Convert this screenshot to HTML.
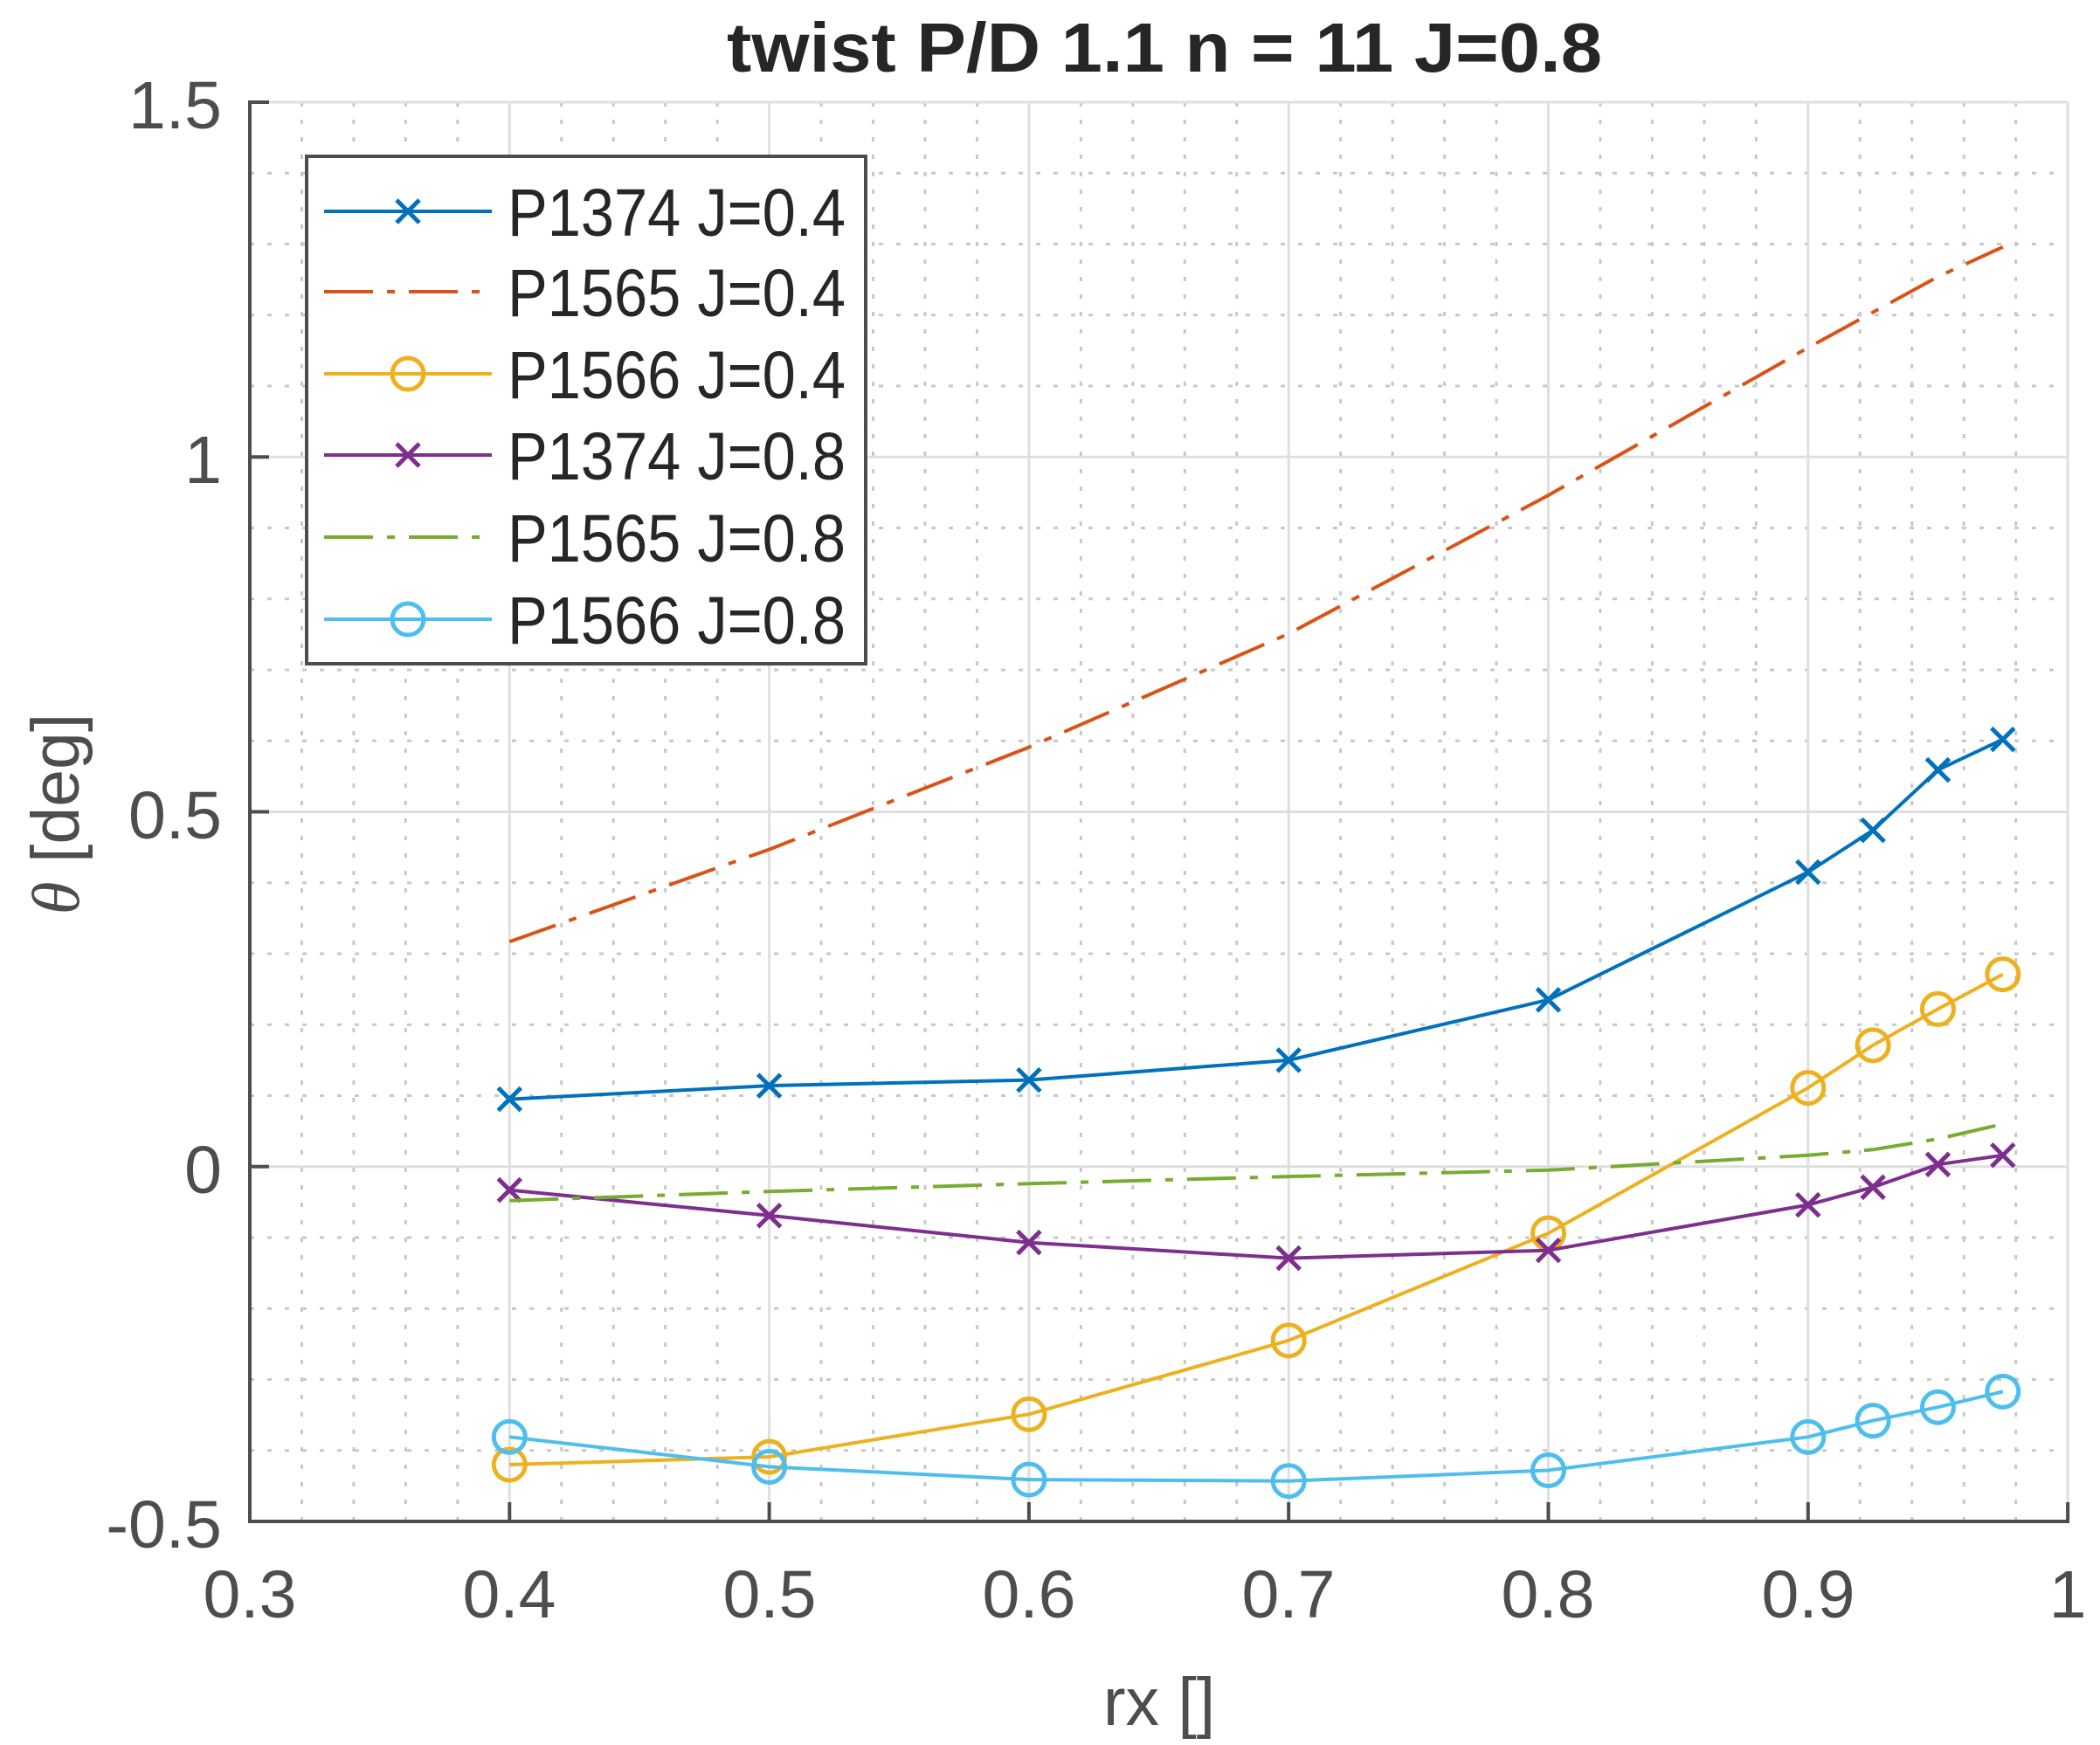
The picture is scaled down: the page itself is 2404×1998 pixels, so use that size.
<!DOCTYPE html>
<html><head><meta charset="utf-8"><style>
html,body{margin:0;padding:0;background:#fff;}
svg{display:block;}
text{font-family:"Liberation Sans",Arial,sans-serif;}
</style></head><body>
<svg id="s" width="2404" height="1998" viewBox="0 0 2404 1998" xmlns="http://www.w3.org/2000/svg">
<rect width="2404" height="1998" fill="#fff"/>
<g id="grid"></g>
<g id="data"></g>
<g id="axes"></g>
<g font-size="77" fill="#4d4d4f" text-anchor="middle">
<text x="286" y="1852">0.3</text>
<text x="583" y="1852">0.4</text>
<text x="881" y="1852">0.5</text>
<text x="1178" y="1852">0.6</text>
<text x="1475" y="1852">0.7</text>
<text x="1772" y="1852">0.8</text>
<text x="2070" y="1852">0.9</text>
<text x="2367" y="1852">1</text>
</g>
<g font-size="77" fill="#4d4d4f" text-anchor="end">
<text x="254" y="147">1.5</text>
<text x="254" y="553">1</text>
<text x="254" y="960">0.5</text>
<text x="254" y="1366">0</text>
<text x="254" y="1772">-0.5</text>
</g>
<text x="1327" y="1975" font-size="77" fill="#4d4d4f" text-anchor="middle">rx []</text>
<text transform="translate(90,932) rotate(-90)" font-size="77" fill="#4d4d4f" text-anchor="middle"><tspan font-family="Liberation Serif" font-style="italic">θ</tspan> [deg]</text>
<text x="832" y="82" font-size="80" font-weight="bold" fill="#262626" textLength="1002" lengthAdjust="spacingAndGlyphs">twist P/D 1.1 n = 11 J=0.8</text>
<rect x="351" y="179" width="640" height="581" fill="#fff" stroke="#4d4d4d" stroke-width="4"/>
<g id="leg"></g>
<g font-size="77" fill="#262626">
<text x="581" y="270" textLength="387" lengthAdjust="spacingAndGlyphs">P1374 J=0.4</text>
<text x="581" y="362" textLength="387" lengthAdjust="spacingAndGlyphs">P1565 J=0.4</text>
<text x="581" y="456" textLength="387" lengthAdjust="spacingAndGlyphs">P1566 J=0.4</text>
<text x="581" y="549" textLength="387" lengthAdjust="spacingAndGlyphs">P1374 J=0.8</text>
<text x="581" y="643" textLength="387" lengthAdjust="spacingAndGlyphs">P1565 J=0.8</text>
<text x="581" y="737" textLength="387" lengthAdjust="spacingAndGlyphs">P1566 J=0.8</text>
</g>
</svg>
<script>
const NS="http://www.w3.org/2000/svg";
const X=v=>286+(v-0.3)*2973, Y=v=>117+(1.5-v)*812.5;
function el(p,t,a){const e=document.createElementNS(NS,t);for(const k in a)e.setAttribute(k,a[k]);document.getElementById(p).appendChild(e);return e;}
for(let i=0;i<=35;i++){const v=0.3+i*0.02;if(i%5==0)continue;el('grid','line',{x1:X(v),x2:X(v),y1:117,y2:1742,stroke:'#c8c8c8','stroke-width':3,'stroke-dasharray':'5 15'});}
for(let i=0;i<=20;i++){const v=-0.5+i*0.1;if(i%5==0)continue;el('grid','line',{x1:286,x2:2367,y1:Y(v),y2:Y(v),stroke:'#c8c8c8','stroke-width':3,'stroke-dasharray':'5 15'});}
for(let i=1;i<=7;i++){const v=0.3+i*0.1;el('grid','line',{x1:X(v),x2:X(v),y1:117,y2:1742,stroke:'#dfdfdf','stroke-width':3});}
for(let i=1;i<=4;i++){const v=-0.5+i*0.5;el('grid','line',{x1:286,x2:2367,y1:Y(v),y2:Y(v),stroke:'#dfdfdf','stroke-width':3});}
el('axes','line',{x1:286,x2:286,y1:115,y2:1744,stroke:'#4d4d4d','stroke-width':4});
el('axes','line',{x1:284,x2:2369,y1:1742,y2:1742,stroke:'#4d4d4d','stroke-width':4});
for(let i=0;i<=7;i++){const x=X(0.3+i*0.1);el('axes','line',{x1:x,x2:x,y1:1742,y2:1720,stroke:'#4d4d4d','stroke-width':4});}
for(let i=0;i<=4;i++){const y=Y(-0.5+i*0.5);el('axes','line',{x1:286,x2:308,y1:y,y2:y,stroke:'#4d4d4d','stroke-width':4});}
const xs=[0.4,0.5,0.6,0.7,0.8,0.9,0.925,0.95,0.975];
const S=[
{c:'#0072bd',m:'x',d:'',y:[0.095,0.114,0.122,0.150,0.235,0.415,0.474,0.559,0.602]},
{c:'#d95319',m:'',d:'56 16 9 16',y:[0.317,0.447,0.591,0.751,0.946,1.154,1.204,1.254,1.296]},
{c:'#edb120',m:'o',d:'',y:[-0.42,-0.409,-0.349,-0.245,-0.094,0.111,0.171,0.222,0.271]},
{c:'#7e2f8e',m:'x',d:'',y:[-0.033,-0.069,-0.107,-0.129,-0.118,-0.054,-0.029,0.003,0.016]},
{c:'#77ac30',m:'',d:'56 16 9 16',y:[-0.048,-0.035,-0.024,-0.014,-0.005,0.016,0.024,0.039,0.06]},
{c:'#4dbeee',m:'o',d:'',y:[-0.381,-0.423,-0.441,-0.443,-0.428,-0.381,-0.358,-0.339,-0.317]}];
function marker(g,m,x,y,c){
 if(m=='x'){el(g,'path',{d:`M${x-13},${y-13}L${x+13},${y+13}M${x-13},${y+13}L${x+13},${y-13}`,stroke:c,'stroke-width':5,fill:'none'});}
 else if(m=='o'){el(g,'circle',{cx:x,cy:y,r:18,stroke:c,'stroke-width':5,fill:'none'});}
}
const ly=[242,334,428,521,615,709];
S.forEach((s,k)=>{
 const pts=xs.map((v,i)=>X(v).toFixed(1)+','+Y(s.y[i]).toFixed(1)).join(' ');
 const a={points:pts,fill:'none',stroke:s.c,'stroke-width':4,'stroke-linejoin':'round'};
 if(s.d)a['stroke-dasharray']=s.d;
 el('data','polyline',a);
 xs.forEach((v,i)=>marker('data',s.m,X(v),Y(s.y[i]),s.c));
 const la={x1:371,x2:563,y1:ly[k],y2:ly[k],stroke:s.c,'stroke-width':4};
 if(s.d)la['stroke-dasharray']=s.d;
 el('leg','line',la);
 marker('leg',s.m,467,ly[k],s.c);
});
</script>
</body></html>
